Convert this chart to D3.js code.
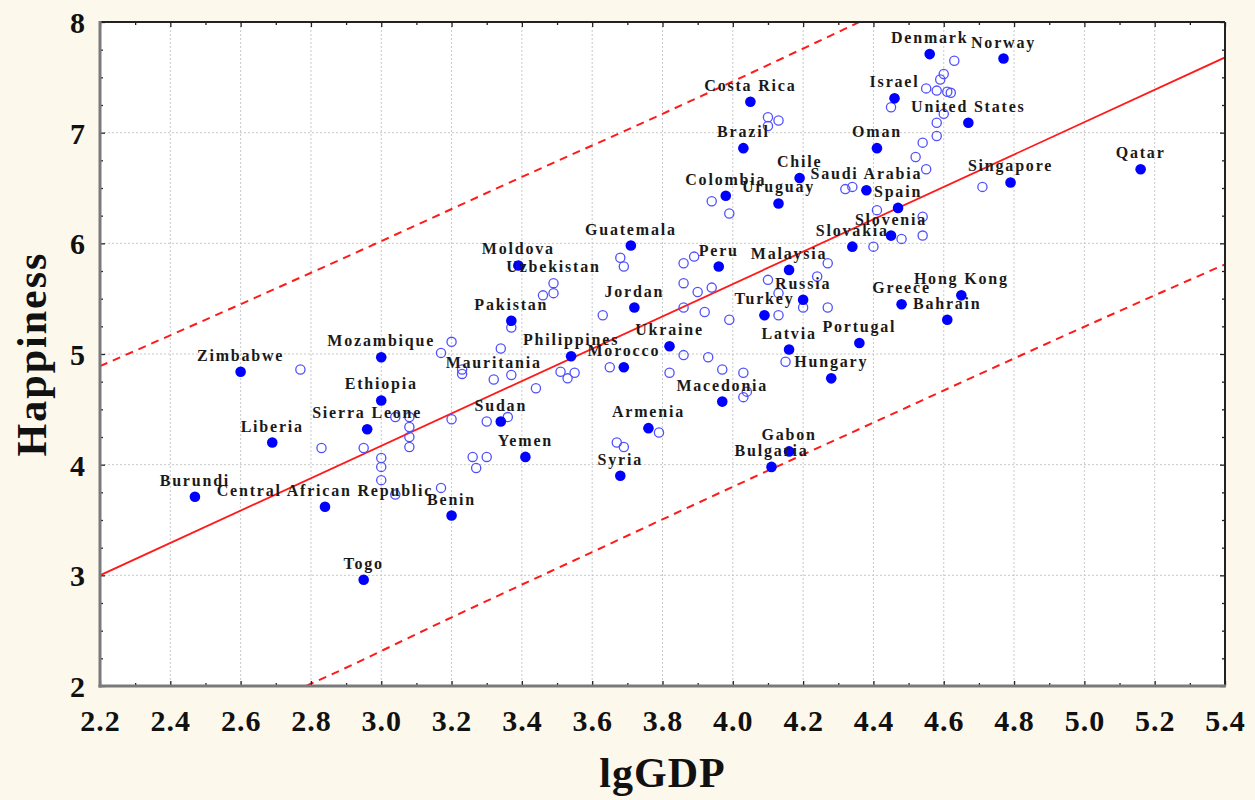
<!DOCTYPE html>
<html>
<head>
<meta charset="utf-8">
<script src="https://cdn.jsdelivr.net/npm/d3@7"></script>
<style>
  html, body { margin: 0; padding: 0; background: #fdf8ec; }
  svg { display: block; }
</style>
</head>
<body>
<script>
// ---------- DATA ----------
const xTicks = [2.2, 2.4, 2.6, 2.8, 3.0, 3.2, 3.4, 3.6, 3.8, 4.0, 4.2, 4.4, 4.6, 4.8, 5.0, 5.2, 5.4];
const yTicks = [2, 3, 4, 5, 6, 7, 8];

// labelled countries (filled markers)
const labeledNames = ["Denmark","Norway","Israel","United States","Costa Rica","Brazil","Oman","Chile",
  "Saudi Arabia","Spain","Uruguay","Colombia","Singapore","Qatar","Slovenia","Slovakia","Guatemala",
  "Moldova","Peru","Malaysia","Pakistan","Jordan","Russia","Turkey","Latvia","Ukraine","Philippines",
  "Morocco","Mozambique","Zimbabwe","Ethiopia","Sierra Leone","Liberia","Burundi","Central African Republic",
  "Togo","Benin","Yemen","Sudan","Syria","Armenia","Macedonia","Gabon","Bulgaria","Hungary","Portugal",
  "Greece","Hong Kong","Bahrain"];
const labeledGDP = [4.56,4.77,4.46,4.67,4.05,4.03,4.41,4.19,
  4.38,4.47,4.13,3.98,4.79,5.16,4.45,4.34,3.71,
  3.39,3.96,4.16,3.37,3.72,4.20,4.09,4.16,3.82,3.54,
  3.69,3.00,2.60,3.00,2.96,2.69,2.47,2.84,
  2.95,3.20,3.41,3.34,3.68,3.76,3.97,4.16,4.11,4.28,4.36,
  4.48,4.65,4.61];
const labeledHappy = [7.71,7.67,7.31,7.09,7.28,6.86,6.86,6.59,
  6.48,6.32,6.36,6.43,6.55,6.67,6.07,5.97,5.98,
  5.80,5.79,5.76,5.30,5.42,5.49,5.35,5.04,5.07,4.98,
  4.88,4.97,4.84,4.58,4.32,4.20,3.71,3.62,
  2.96,3.54,4.07,4.39,3.90,4.33,4.57,4.12,3.98,4.78,5.10,
  5.45,5.53,5.31];

// labelled countries drawn with open markers
const openLabeledNames = ["Uzbekistan","Mauritania"];
const openLabeledGDP = [3.49, 3.32];
const openLabeledHappy = [5.64, 4.77];

// other countries (open markers, unlabelled)
const otherGDP = [4.63,4.60,4.59,4.55,4.58,4.61,4.62,4.45,4.60,4.58,4.58,4.54,4.52,4.55,4.32,4.34,4.71,4.41,
  4.54,4.48,4.54,4.40,4.27,4.10,4.13,4.10,3.94,3.99,3.68,3.69,3.86,3.89,4.24,4.10,4.13,4.13,4.20,4.27,
  3.99,4.15,3.86,3.90,3.94,3.86,3.92,3.63,3.46,3.49,3.37,3.20,3.17,3.23,3.23,3.34,3.37,3.44,3.51,3.53,
  3.55,3.65,3.86,3.93,3.82,3.97,4.03,4.04,4.03,3.79,3.67,3.69,3.20,3.30,3.36,3.26,3.30,3.27,3.17,3.04,
  3.08,3.08,3.08,3.08,2.95,3.00,3.00,3.00,3.04,2.83,2.77];
const otherHappy = [7.65,7.53,7.48,7.40,7.38,7.37,7.36,7.23,7.17,7.09,6.97,6.91,6.78,6.67,6.49,6.51,6.51,6.30,
  6.24,6.04,6.07,5.97,5.82,7.14,7.11,7.06,6.38,6.27,5.87,5.79,5.82,5.88,5.70,5.67,5.55,5.35,5.42,5.42,
  5.31,4.93,5.64,5.56,5.60,5.42,5.38,5.35,5.53,5.55,5.24,5.11,5.01,4.86,4.82,5.05,4.81,4.69,4.84,4.78,
  4.83,4.88,4.99,4.97,4.83,4.86,4.83,4.66,4.61,4.29,4.20,4.16,4.41,4.39,4.43,4.07,4.07,3.97,3.79,4.43,
  4.43,4.34,4.25,4.16,4.15,4.06,3.98,3.86,3.73,4.15,4.86];

// regression line
const fitGDP = [2.2, 5.4];
const fitHappy = [3.00, 7.68];
// prediction band (dashed)
const upperGDP = [2.2, 2.6, 3.0, 3.4, 3.8, 4.2, 4.4];
const upperHappy = [4.89, 5.45, 6.02, 6.60, 7.17, 7.76, 8.06];
const lowerGDP = [2.75, 2.8, 3.2, 3.6, 4.0, 4.4, 4.8, 5.2, 5.4];
const lowerHappy = [1.95, 2.02, 2.62, 3.21, 3.80, 4.38, 4.96, 5.53, 5.81];

// ---------- CHART ----------
const W = 1255, H = 800;
const L = 100, R = 1225, T = 22, B = 686;
const serif = "'Liberation Serif', 'Times New Roman', serif";

const x = d3.scaleLinear().domain([2.2, 5.4]).range([L, R]);
const y = d3.scaleLinear().domain([2, 8]).range([B, T]);

const svg = d3.select("body").append("svg").attr("width", W).attr("height", H);
svg.append("rect").attr("width", W).attr("height", H).attr("fill", "#fdf8ec");
svg.append("rect").attr("x", L).attr("y", T).attr("width", R - L).attr("height", B - T).attr("fill", "#ffffff");

svg.append("defs").append("clipPath").attr("id", "plotclip")
  .append("rect").attr("x", L).attr("y", T).attr("width", R - L).attr("height", B - T);

// grid
const grid = svg.append("g");
grid.selectAll("line.vx").data(xTicks.slice(1, -1)).join("line")
  .attr("x1", d => x(d)).attr("x2", d => x(d)).attr("y1", T).attr("y2", B)
  .attr("stroke", "#c8c8c8").attr("stroke-width", 1).attr("stroke-dasharray", "2,2");
grid.selectAll("line.hy").data(yTicks.slice(1, -1)).join("line")
  .attr("y1", d => y(d)).attr("y2", d => y(d)).attr("x1", L).attr("x2", R)
  .attr("stroke", "#c8c8c8").attr("stroke-width", 1).attr("stroke-dasharray", "2,2");

// lines
const plot = svg.append("g").attr("clip-path", "url(#plotclip)");
const line = d3.line().x(d => x(d[0])).y(d => y(d[1]));
const lineC = d3.line().x(d => x(d[0])).y(d => y(d[1])).curve(d3.curveMonotoneX);
plot.append("path").datum(fitGDP.map((v, i) => [v, fitHappy[i]]))
  .attr("d", line).attr("fill", "none").attr("stroke", "#ff1a1a").attr("stroke-width", 1.8);
plot.append("path").datum(upperGDP.map((v, i) => [v, upperHappy[i]]))
  .attr("d", lineC).attr("fill", "none").attr("stroke", "#ff1a1a").attr("stroke-width", 2)
  .attr("stroke-dasharray", "8,6");
plot.append("path").datum(lowerGDP.map((v, i) => [v, lowerHappy[i]]))
  .attr("d", lineC).attr("fill", "none").attr("stroke", "#ff1a1a").attr("stroke-width", 2)
  .attr("stroke-dasharray", "8,6");

// open points
plot.selectAll("circle.open").data(otherGDP.map((v, i) => [v, otherHappy[i]])
    .concat(openLabeledGDP.map((v, i) => [v, openLabeledHappy[i]])))
  .join("circle").attr("class", "open")
  .attr("cx", d => x(d[0])).attr("cy", d => y(d[1])).attr("r", 4.6)
  .attr("fill", "none").attr("stroke", "#5050ff").attr("stroke-width", 1.3);

// filled points
plot.selectAll("circle.fill").data(labeledGDP.map((v, i) => [v, labeledHappy[i]]))
  .join("circle").attr("class", "fill")
  .attr("cx", d => x(d[0])).attr("cy", d => y(d[1])).attr("r", 5.3)
  .attr("fill", "#0000ff");

// labels
const labels = labeledNames.map((n, i) => [n, labeledGDP[i], labeledHappy[i]])
  .concat(openLabeledNames.map((n, i) => [n, openLabeledGDP[i], openLabeledHappy[i]]));
svg.append("g").selectAll("text").data(labels).join("text")
  .attr("x", d => x(d[1])).attr("y", d => y(d[2]) - 11)
  .attr("text-anchor", "middle")
  .attr("font-family", serif).attr("font-weight", "bold").attr("font-size", 16)
  .attr("letter-spacing", 1.8).attr("fill", "#1a1a1a")
  .text(d => d[0]);

// axes
const xMinor = d3.range(22, 55).map(v => v / 10).filter(v => Math.round(v * 10) % 2 === 1);
const yMinor = d3.range(8, 33).map(v => v / 4).filter(v => v % 1 !== 0);

function styleAxis(g) {
  g.select(".domain").remove();
  g.selectAll(".tick line").attr("stroke", "#222").attr("stroke-width", 1.3);
}
// bottom
svg.append("g").attr("transform", `translate(0,${B})`)
  .call(d3.axisBottom(x).tickValues(xTicks).tickSize(-5).tickPadding(0).tickFormat(d3.format(".1f")))
  .call(styleAxis)
  .call(g => g.selectAll("text").attr("y", 34).attr("dy", "0.35em")
    .attr("font-family", serif).attr("font-weight", "bold").attr("font-size", 30)
    .attr("letter-spacing", 1).attr("fill", "#111"));
svg.append("g").attr("transform", `translate(0,${B})`)
  .call(d3.axisBottom(x).tickValues(xMinor).tickSize(-3).tickFormat(""))
  .call(styleAxis);
// top
svg.append("g").attr("transform", `translate(0,${T})`)
  .call(d3.axisTop(x).tickValues(xTicks).tickSize(-5).tickFormat(""))
  .call(styleAxis);
svg.append("g").attr("transform", `translate(0,${T})`)
  .call(d3.axisTop(x).tickValues(xMinor).tickSize(-3).tickFormat(""))
  .call(styleAxis);
// left
svg.append("g").attr("transform", `translate(${L},0)`)
  .call(d3.axisLeft(y).tickValues(yTicks).tickSize(-5).tickPadding(0).tickFormat(d3.format("d")))
  .call(styleAxis)
  .call(g => g.selectAll("text").attr("x", -15).attr("dy", "0.35em")
    .attr("font-family", serif).attr("font-weight", "bold").attr("font-size", 30).attr("fill", "#111"));
svg.append("g").attr("transform", `translate(${L},0)`)
  .call(d3.axisLeft(y).tickValues(yMinor).tickSize(-3).tickFormat(""))
  .call(styleAxis);
// right
svg.append("g").attr("transform", `translate(${R},0)`)
  .call(d3.axisRight(y).tickValues(yTicks).tickSize(-5).tickFormat(""))
  .call(styleAxis);
svg.append("g").attr("transform", `translate(${R},0)`)
  .call(d3.axisRight(y).tickValues(yMinor).tickSize(-3).tickFormat(""))
  .call(styleAxis);

// frame
svg.append("line").attr("x1", L).attr("x2", R).attr("y1", T).attr("y2", T).attr("stroke", "#222").attr("stroke-width", 2);
svg.append("line").attr("x1", R).attr("x2", R).attr("y1", T).attr("y2", B).attr("stroke", "#222").attr("stroke-width", 2);
svg.append("line").attr("x1", L).attr("x2", L).attr("y1", T - 1).attr("y2", B + 1.5).attr("stroke", "#7a7a7a").attr("stroke-width", 3);
svg.append("line").attr("x1", L - 1.5).attr("x2", R + 1).attr("y1", B).attr("y2", B).attr("stroke", "#7a7a7a").attr("stroke-width", 3);

// axis titles
svg.append("text").attr("x", (L + R) / 2).attr("y", 787).attr("text-anchor", "middle")
  .attr("font-family", serif).attr("font-weight", "bold").attr("font-size", 42)
  .attr("letter-spacing", 1).attr("fill", "#111").text("lgGDP");
svg.append("text").attr("transform", `translate(46,${(T + B) / 2}) rotate(-90)`).attr("text-anchor", "middle")
  .attr("font-family", serif).attr("font-weight", "bold").attr("font-size", 42)
  .attr("letter-spacing", 2).attr("fill", "#111").text("Happiness");
</script>
</body>
</html>
